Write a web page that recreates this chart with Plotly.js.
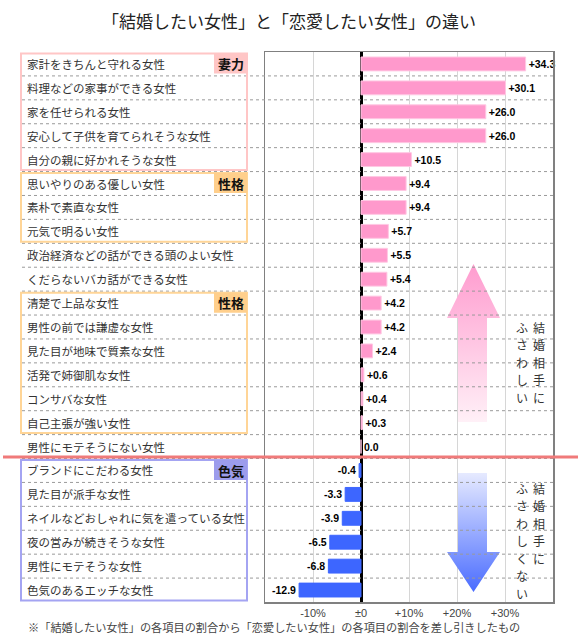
<!DOCTYPE html>
<html>
<head>
<meta charset="utf-8">
<script src="https://cdn.plot.ly/plotly-3.0.1.min.js"></script>
<style>
  html, body { margin: 0; padding: 0; background: #ffffff; }
  #plot { width: 578px; height: 640px; }
</style>
</head>
<body>
<div id="plot"></div>
<script>
const categories = [
  "家計をきちんと守れる女性",
  "料理などの家事ができる女性",
  "家を任せられる女性",
  "安心して子供を育てられそうな女性",
  "自分の親に好かれそうな女性",
  "思いやりのある優しい女性",
  "素朴で素直な女性",
  "元気で明るい女性",
  "政治経済などの話ができる頭のよい女性",
  "くだらないバカ話ができる女性",
  "清楚で上品な女性",
  "男性の前では謙虚な女性",
  "見た目が地味で質素な女性",
  "活発で姉御肌な女性",
  "コンサバな女性",
  "自己主張が強い女性",
  "男性にモテそうにない女性",
  "ブランドにこだわる女性",
  "見た目が派手な女性",
  "ネイルなどおしゃれに気を遣っている女性",
  "夜の営みが続きそうな女性",
  "男性にモテそうな女性",
  "色気のあるエッチな女性",
];
const diffValues = [
  34.3, 30.1, 26.0, 26.0, 10.5, 9.4, 9.4, 5.7, 5.5, 5.4, 4.2, 4.2,
  2.4, 0.6, 0.4, 0.3, 0.0, -0.4, -3.3, -3.9, -6.5, -6.8, -12.9,
];
const tickValues = [-10, 0, 10, 20, 30];
const tickLabels = ["-10%", "±0", "+10%", "+20%", "+30%"];
// groups: [label, first row, last row]
const groups = [
  ["妻力", 0, 4],
  ["性格", 5, 7],
  ["性格", 10, 15],
  ["色気", 17, 22],
];

const W = 578, H = 640;
const M = { l: 265, r: 25, t: 52, b: 38 };
const PW = W - M.l - M.r, PH = H - M.t - M.b;
const px = (x) => (x - M.l) / PW;
const py = (y) => 1 - (y - M.t) / PH;
const rowTop = (i) => M.t + i * (PH / categories.length);

const groupStyle = {
  "妻力": { line: "#ffc6c6", fill: "#ffc6c6" },
  "性格": { line: "#ffd597", fill: "#ffcf8c" },
  "色気": { line: "#a4a4f2", fill: "#9c9cec" },
};

const FONT = '"Noto Sans CJK JP", "Noto Sans", sans-serif';

const shapes = [];
const annotations = [];

// dotted separators between rows
for (let i = 0; i < categories.length - 1; i++) {
  shapes.push({
    type: "line", xref: "paper", yref: "y",
    x0: px(22), x1: 1, y0: i + 0.5, y1: i + 0.5,
    line: { color: "#9a9a9a", width: 1, dash: "dot" },
  });
}

// group boxes and tags
groups.forEach(([name, a, b]) => {
  const st = groupStyle[name];
  const y0 = rowTop(a) + 1.5, y1 = rowTop(b + 1) - 1.5;
  shapes.push({
    type: "rect", xref: "paper", yref: "paper",
    x0: px(21), x1: px(247), y0: py(y0), y1: py(y1),
    line: { color: st.line, width: 2 }, fillcolor: "rgba(0,0,0,0)",
  });
  shapes.push({
    type: "rect", xref: "paper", yref: "paper",
    x0: px(214), x1: px(247), y0: py(y0), y1: py(y0 + 20),
    line: { width: 0 }, fillcolor: st.fill,
  });
  annotations.push({
    xref: "paper", yref: "paper", x: px(231), y: py(y0 + 10),
    text: name, showarrow: false, xanchor: "center", yanchor: "middle",
    font: { family: FONT, size: 13, color: "#111", weight: "bold" },
  });
});

// red divider
shapes.push({
  type: "line", xref: "paper", yref: "paper",
  x0: px(3), x1: px(578), y0: py(457), y1: py(457),
  line: { color: "#f07a7a", width: 3 },
});

// row labels
categories.forEach((c) => {
  annotations.push({
    xref: "paper", yref: "y", x: px(25), y: c,
    text: c, showarrow: false, xanchor: "left", yanchor: "middle",
    font: { family: FONT, size: 11.5, color: "#333" },
  });
});

// vertical captions, one character per annotation
const VSTEP = 17.5;
[
  ["結婚相手に", 539, 327],
  ["ふさわしい", 522, 327],
  ["結婚相手に", 539, 488],
  ["ふさわしくない", 522, 488],
].forEach(([s, x, y]) => {
  s.split("").forEach((ch, k) => {
    annotations.push({
      xref: "paper", yref: "paper", x: px(x), y: py(y + k * VSTEP),
      text: ch, showarrow: false, xanchor: "center", yanchor: "middle",
      borderpad: 0,
      font: { family: FONT, size: 12, color: "#333" },
    });
  });
});

// footnote
annotations.push({
  xref: "paper", yref: "paper", x: px(26), y: py(627),
  text: "※「結婚したい女性」の各項目の割合から「恋愛したい女性」の各項目の割合を差し引きしたもの",
  showarrow: false, xanchor: "left", yanchor: "middle",
  font: { family: FONT, size: 11.2, color: "#444" },
});

// gradient arrows as svg images
function arrowSvg(up, c0, c1) {
  const w = 53, h = up ? 158 : 119, head = up ? 54 : 40;
  const pts = up
    ? `26.5,0 53,${head} 40,${head} 40,${h} 11,${h} 11,${head} 0,${head}`
    : `11,0 40,0 40,${h - head} 53,${h - head} 26.5,${h} 0,${h - head} 11,${h - head}`;
  const svg = `<svg xmlns="http://www.w3.org/2000/svg" width="${w}" height="${h}" viewBox="0 0 ${w} ${h}" preserveAspectRatio="none">` +
    `<defs><linearGradient id="g" x1="0" y1="0" x2="0" y2="1">` +
    `<stop offset="0" stop-color="${c0}"/><stop offset="1" stop-color="${c1}"/></linearGradient></defs>` +
    `<polygon points="${pts}" fill="url(#g)"/></svg>`;
  return "data:image/svg+xml;base64," + btoa(svg);
}
const images = [
  {
    source: arrowSvg(true, "#ff9ccf", "#fff0f7"),
    xref: "paper", yref: "paper", x: px(447), y: py(264),
    sizex: 53 / PW, sizey: 158 / PH, xanchor: "left", yanchor: "top",
    sizing: "stretch", layer: "above",
  },
  {
    source: arrowSvg(false, "#e6eaff", "#4a6cff"),
    xref: "paper", yref: "paper", x: px(447), y: py(473),
    sizex: 53 / PW, sizey: 119 / PH, xanchor: "left", yanchor: "top",
    sizing: "stretch", layer: "above",
  },
];

const trace = {
  type: "bar",
  orientation: "h",
  y: categories,
  x: diffValues,
  marker: {
    color: diffValues.map((v) => (v >= 0 ? "#ff99cc" : "#3d66ff")),
    line: { color: diffValues.map((v) => (v >= 0 ? "#ffc8e3" : "#3d66ff")), width: 1 },
  },
  text: diffValues.map((v) => (v > 0 ? "+" + v.toFixed(1) : v.toFixed(1))),
  textposition: "outside",
  cliponaxis: false,
  textfont: { family: "Arial, 'Liberation Sans', sans-serif", size: 10.5, color: "#000", weight: "bold" },
  hoverinfo: "skip",
};

const layout = {
  width: W, height: H,
  margin: M,
  paper_bgcolor: "#ffffff",
  plot_bgcolor: "rgba(0,0,0,0)",
  showlegend: false,
  bargap: 0.42,
  title: {
    text: "「結婚したい女性」と「恋愛したい女性」の違い",
    xref: "container", x: 0.5, xanchor: "center",
    yref: "container", y: 1 - 22 / H, yanchor: "middle",
    font: { family: FONT, size: 17, color: "#222" },
  },
  xaxis: {
    range: [-20, 40],
    tickvals: tickValues,
    ticktext: tickLabels,
    ticks: "",
    showgrid: true,
    gridcolor: "#d6d6d6",
    gridwidth: 1,
    zeroline: true,
    zerolinecolor: "#000000",
    zerolinewidth: 3,
    showline: true,
    mirror: true,
    linecolor: "#808080",
    linewidth: 1.5,
    tickfont: { family: "Arial, 'Liberation Sans', sans-serif", size: 11, color: "#444" },
    fixedrange: true,
  },
  yaxis: {
    type: "category",
    range: [categories.length - 0.5, -0.5],
    showticklabels: false,
    ticks: "",
    showgrid: false,
    zeroline: false,
    showline: true,
    mirror: true,
    linecolor: "#808080",
    linewidth: 1.5,
    fixedrange: true,
  },
  shapes,
  annotations,
  images,
};

Plotly.newPlot("plot", [trace], layout, { displayModeBar: false, staticPlot: true });
</script>
</body>
</html>
